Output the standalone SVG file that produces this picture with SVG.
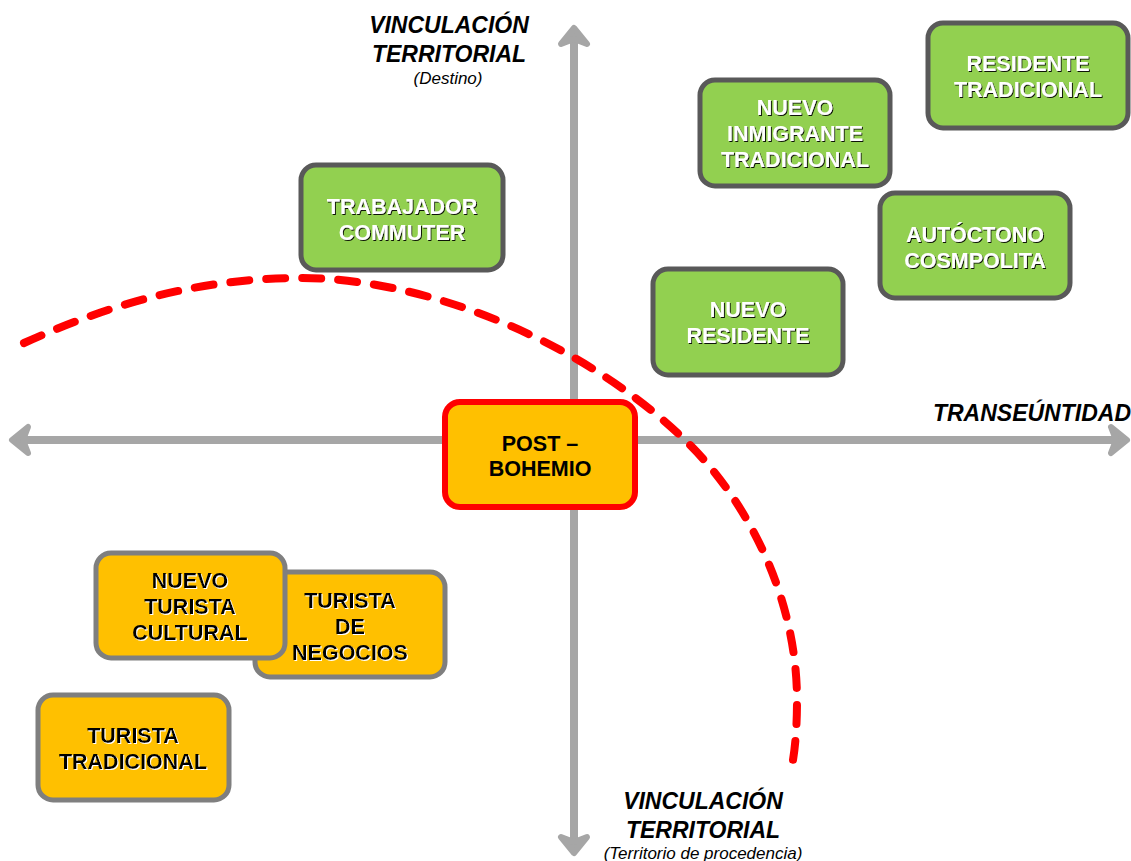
<svg xmlns="http://www.w3.org/2000/svg" width="1131" height="861" viewBox="0 0 1131 861">
<style>
.axis{stroke:#A6A6A6;stroke-width:8;fill:none}
.curve{stroke:#FF0000;stroke-width:8;fill:none;stroke-dasharray:19 17;stroke-linecap:round}
.g{fill:#92D050;stroke:#595959;stroke-width:5}
.o{fill:#FFC000;stroke:#7F7F7F;stroke-width:5}
.ob{fill:#FFC000;stroke:#FF0000;stroke-width:6}
.t{font-family:"Liberation Sans",Arial,sans-serif;font-weight:bold;font-size:21.5px;text-anchor:middle}
.tw{fill:#FFFFFF;filter:url(#sd)}
.tb{fill:#000000;filter:url(#sw)}
.lab{font-family:"Liberation Sans",Arial,sans-serif;font-weight:bold;font-style:italic;font-size:23px;fill:#000}
.sub{font-family:"Liberation Sans",Arial,sans-serif;font-style:italic;font-size:17px;fill:#000}
</style>
<defs>
<marker id="ah" viewBox="-22 -18 26 36" markerWidth="26" markerHeight="36" refX="-8" refY="0" orient="auto-start-reverse" markerUnits="userSpaceOnUse" overflow="visible">
<path d="M-16,-13 L0,0 L-16,13 L-11,0 Z" fill="#A6A6A6" stroke="#A6A6A6" stroke-width="6" stroke-linejoin="round"/>
</marker>
<filter id="sd" x="-10%" y="-30%" width="120%" height="160%"><feDropShadow dx="1" dy="1" stdDeviation="0.4" flood-color="#000" flood-opacity="0.9"/></filter>
<filter id="sw" x="-10%" y="-30%" width="120%" height="160%"><feDropShadow dx="1" dy="1" stdDeviation="0.4" flood-color="#fff" flood-opacity="1"/></filter>
</defs>
<rect width="1131" height="861" fill="#FFFFFF"/>
<g id="connectors">
<line class="axis" x1="574" y1="36" x2="574" y2="845" marker-start="url(#ah)" marker-end="url(#ah)"/>
<line class="axis" x1="20" y1="440" x2="1119" y2="440" marker-start="url(#ah)" marker-end="url(#ah)"/>
<path class="curve" d="M24,343 C110,304 200,278 300,278 C430,278 590,345 690,445 C750,505 797,600 797,700 Q797,735 793,760"/>
</g>
<g id="labels">
<text class="lab" x="449" y="33" text-anchor="middle">VINCULACIÓN</text>
<text class="lab" x="449" y="62" text-anchor="middle">TERRITORIAL</text>
<text class="sub" x="448" y="84" text-anchor="middle">(Destino)</text>
<text class="lab" x="703" y="809" text-anchor="middle">VINCULACIÓN</text>
<text class="lab" x="703" y="838" text-anchor="middle">TERRITORIAL</text>
<text class="sub" x="703" y="859" text-anchor="middle">(Territorio de procedencia)</text>
<text class="lab" x="1131" y="421" text-anchor="end">TRANSEÚNTIDAD</text>
</g>
<g id="trabajador-commuter">
<rect class="g" x="301" y="165" width="202" height="105" rx="15"/>
<text class="t tw" x="402" y="213.5">TRABAJADOR</text>
<text class="t tw" x="402" y="239.5">COMMUTER</text>
</g>
<g id="nuevo-inmigrante-tradicional">
<rect class="g" x="700" y="80" width="190" height="106" rx="15"/>
<text class="t tw" x="795" y="115">NUEVO</text>
<text class="t tw" x="795" y="141">INMIGRANTE</text>
<text class="t tw" x="795" y="167">TRADICIONAL</text>
</g>
<g id="residente-tradicional">
<rect class="g" x="928" y="23" width="200" height="105" rx="15"/>
<text class="t tw" x="1028" y="71">RESIDENTE</text>
<text class="t tw" x="1028" y="97">TRADICIONAL</text>
</g>
<g id="autoctono-cosmpolita">
<rect class="g" x="880" y="193" width="190" height="105" rx="15"/>
<text class="t tw" x="975" y="242">AUTÓCTONO</text>
<text class="t tw" x="975" y="268">COSMPOLITA</text>
</g>
<g id="nuevo-residente">
<rect class="g" x="653" y="269" width="190" height="106" rx="15"/>
<text class="t tw" x="748" y="317">NUEVO</text>
<text class="t tw" x="748" y="343">RESIDENTE</text>
</g>
<g id="post-bohemio">
<rect class="ob" x="445" y="402" width="190" height="105" rx="15"/>
<text class="t" x="540" y="451">POST –</text>
<text class="t" x="540" y="476">BOHEMIO</text>
</g>
<g id="turista-de-negocios">
<rect class="o" x="255" y="572" width="190" height="105" rx="15"/>
<text class="t tb" x="350" y="608">TURISTA</text>
<text class="t tb" x="350" y="634">DE</text>
<text class="t tb" x="350" y="660">NEGOCIOS</text>
</g>
<g id="nuevo-turista-cultural">
<rect class="o" x="96" y="553" width="189" height="105" rx="15"/>
<text class="t tb" x="190" y="588">NUEVO</text>
<text class="t tb" x="190" y="614">TURISTA</text>
<text class="t tb" x="190" y="640">CULTURAL</text>
</g>
<g id="turista-tradicional">
<rect class="o" x="38" y="695" width="191" height="105" rx="15"/>
<text class="t tb" x="133" y="743">TURISTA</text>
<text class="t tb" x="133" y="769">TRADICIONAL</text>
</g>
</svg>
